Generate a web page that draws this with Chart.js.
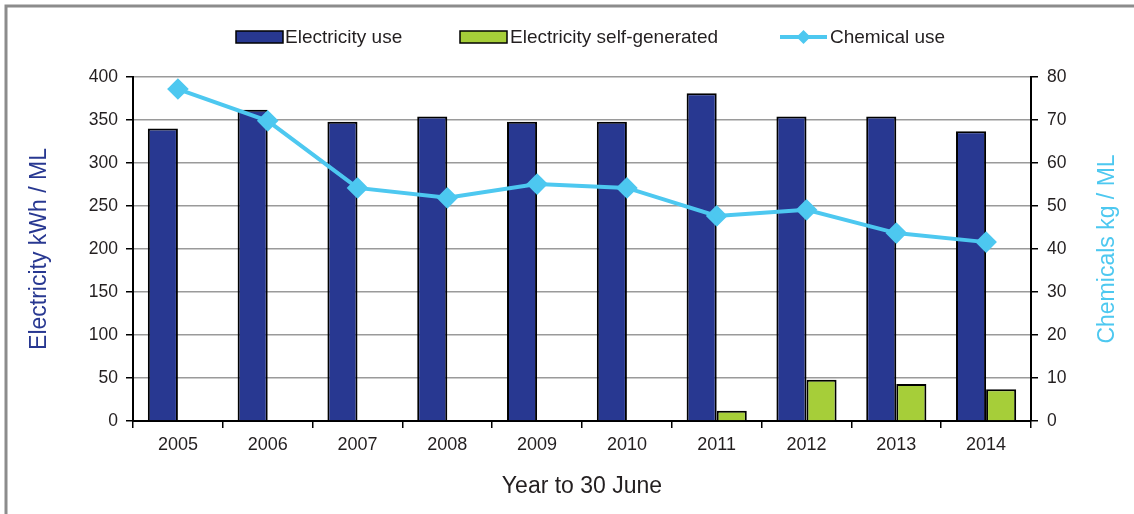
<!DOCTYPE html>
<html>
<head>
<meta charset="utf-8">
<script src="https://cdn.jsdelivr.net/npm/chart.js"></script>
<style>
  html, body { margin: 0; padding: 0; background: #fff; }
  #wrap { width: 1134px; height: 514px; position: relative; }
</style>
</head>
<body>
<div id="wrap"><canvas id="chart" width="1134" height="514"></canvas></div>
<script>
// chart data
const years = ['2005', '2006', '2007', '2008', '2009', '2010', '2011', '2012', '2013', '2014'];
const electricityUse = [340, 362, 348, 354, 348, 348, 381, 354, 354, 337];
const selfGenerated = [null, null, null, null, null, null, 12, 48, 43, 37];
const chemicalUse = [77.2, 69.8, 54.2, 51.9, 55.1, 54.2, 47.7, 49.1, 43.7, 41.6];

const FONT = "'Liberation Sans', Arial, sans-serif";
const BLUE = '#283891';
const GREEN = '#a6ce39';
const CYAN = '#4dc8f0';
const TEXT = '#231f20';

// grey frame at the top and left of the picture
const framePlugin = {
    id: 'frame',
    beforeDraw(chart) {
        const ctx = chart.ctx;
        ctx.save();
        ctx.fillStyle = '#fff';
        ctx.fillRect(0, 0, chart.width, chart.height);
        ctx.strokeStyle = '#8c8c8c';
        ctx.lineWidth = 3;
        ctx.beginPath();
        ctx.moveTo(6, chart.height);
        ctx.lineTo(6, 6);
        ctx.lineTo(chart.width, 6);
        ctx.stroke();
        ctx.restore();
    }
};

// legend + right axis title drawn by hand (title reads bottom-to-top like the left one)
const legendPlugin = {
    id: 'handLegend',
    afterDraw(chart) {
        const ctx = chart.ctx;
        const y = 37;
        const items = [
            { ds: 0, x: 236, text: 285 },
            { ds: 1, x: 460, text: 510 },
            { ds: 2, x: 780, text: 830 }
        ];
        ctx.save();
        ctx.font = '19px ' + FONT;
        ctx.textBaseline = 'middle';
        items.forEach(it => {
            const ds = chart.data.datasets[it.ds];
            if (ds.type === 'line') {
                ctx.strokeStyle = ds.borderColor;
                ctx.lineWidth = 4;
                ctx.beginPath();
                ctx.moveTo(it.x, y);
                ctx.lineTo(it.x + 47, y);
                ctx.stroke();
                ctx.fillStyle = ds.borderColor;
                ctx.beginPath();
                ctx.moveTo(it.x + 23.5, y - 7);
                ctx.lineTo(it.x + 30.5, y);
                ctx.lineTo(it.x + 23.5, y + 7);
                ctx.lineTo(it.x + 16.5, y);
                ctx.closePath();
                ctx.fill();
            } else {
                ctx.fillStyle = ds.backgroundColor;
                ctx.fillRect(it.x, y - 6, 47, 12);
                ctx.strokeStyle = '#000';
                ctx.lineWidth = 1.5;
                ctx.strokeRect(it.x, y - 6, 47, 12);
            }
            ctx.fillStyle = TEXT;
            ctx.fillText(ds.label, it.text, y + 1);
        });

        const area = chart.chartArea;
        ctx.translate(1108, (area.top + area.bottom) / 2);
        ctx.rotate(-Math.PI / 2);
        ctx.font = '23px ' + FONT;
        ctx.textAlign = 'center';
        ctx.fillStyle = CYAN;
        ctx.fillText('Chemicals kg / ML', 0, 0);
        ctx.restore();
    }
};

new Chart(document.getElementById('chart'), {
    data: {
        labels: years,
        datasets: [
            {
                type: 'bar',
                label: 'Electricity use',
                data: electricityUse,
                backgroundColor: BLUE,
                borderColor: '#000',
                borderWidth: 2,
                yAxisID: 'y',
                order: 1
            },
            {
                type: 'bar',
                label: 'Electricity self-generated',
                data: selfGenerated,
                backgroundColor: GREEN,
                borderColor: '#000',
                borderWidth: 2,
                yAxisID: 'y',
                order: 1
            },
            {
                type: 'line',
                label: 'Chemical use',
                data: chemicalUse,
                borderColor: CYAN,
                backgroundColor: CYAN,
                borderWidth: 4,
                pointStyle: 'rectRot',
                pointRadius: 8,
                pointHoverRadius: 8,
                tension: 0,
                yAxisID: 'y1',
                order: 0
            }
        ]
    },
    options: {
        responsive: false,
        animation: false,
        layout: { padding: { top: 77, right: 0, left: 0, bottom: 0 } },
        datasets: {
            bar: { categoryPercentage: 0.67, barPercentage: 1 }
        },
        plugins: {
            legend: { display: false },
            tooltip: { enabled: false }
        },
        scales: {
            x: {
                offset: true,
                grid: {
                    offset: true,
                    drawOnChartArea: false,
                    tickLength: 7,
                    color: '#000',
                    lineWidth: 1.5
                },
                border: { color: '#000', width: 2 },
                ticks: {
                    color: TEXT,
                    font: { family: FONT, size: 18 },
                    padding: 6,
                    maxRotation: 0
                },
                title: {
                    display: true,
                    text: 'Year to 30 June',
                    color: TEXT,
                    font: { family: FONT, size: 23 },
                    padding: { top: 0, bottom: 14 }
                },
                afterFit(scale) { scale.height = 93; }
            },
            y: {
                position: 'left',
                min: 0,
                max: 400,
                ticks: {
                    stepSize: 50,
                    color: TEXT,
                    font: { family: FONT, size: 17.5 },
                    padding: 8
                },
                grid: {
                    color: '#9a9a9a',
                    lineWidth: 1.5,
                    tickColor: '#000',
                    tickLength: 7
                },
                border: { color: '#000', width: 2 },
                title: {
                    display: true,
                    text: 'Electricity kWh / ML',
                    color: BLUE,
                    font: { family: FONT, size: 23 },
                    padding: { top: 26, bottom: 0 }
                },
                afterFit(scale) { scale.width = 133; }
            },
            y1: {
                position: 'right',
                min: 0,
                max: 80,
                ticks: {
                    stepSize: 10,
                    color: TEXT,
                    font: { family: FONT, size: 17.5 },
                    padding: 9
                },
                grid: {
                    drawOnChartArea: false,
                    tickColor: '#000',
                    tickLength: 7,
                    lineWidth: 1.5
                },
                border: { color: '#000', width: 2 },
                afterFit(scale) { scale.width = 103; }
            }
        }
    },
    plugins: [framePlugin, legendPlugin]
});
</script>
</body>
</html>
